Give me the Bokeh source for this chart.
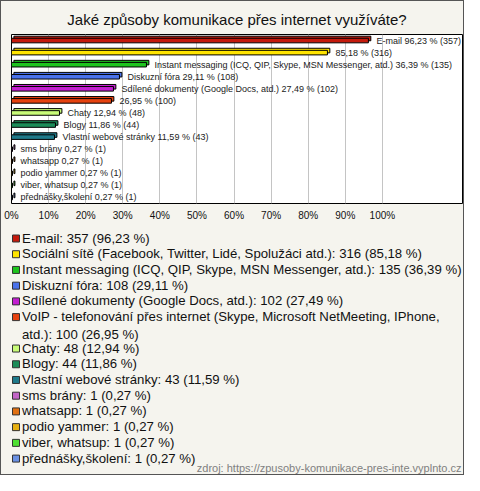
from bokeh.plotting import figure
from bokeh.models import Range1d, FixedTicker, PrintfTickFormatter, ColumnDataSource
from bokeh.layouts import column
from bokeh.embed import file_html
from bokeh.resources import INLINE
from bokeh.core.properties import value

title_text = "Jaké způsoby komunikace přes internet využíváte?"
categories = [
    "E-mail",
    "Sociální sítě (Facebook, Twitter, Lidé, Spolužáci atd.)",
    "Instant messaging (ICQ, QIP, Skype, MSN Messenger, atd.)",
    "Diskuzní fóra",
    "Sdílené dokumenty (Google Docs, atd.)",
    "VoIP - telefonování přes internet (Skype, Microsoft NetMeeting, IPhone,\natd.)",
    "Chaty",
    "Blogy",
    "Vlastní webové stránky",
    "sms brány",
    "whatsapp",
    "podio yammer",
    "viber, whatsup",
    "přednášky,školení",
]
bar_names = [
    "E-mail", "", "Instant messaging (ICQ, QIP, Skype, MSN Messenger, atd.)",
    "Diskuzní fóra", "Sdílené dokumenty (Google Docs, atd.)", "",
    "Chaty", "Blogy", "Vlastní webové stránky", "sms brány", "whatsapp",
    "podio yammer", "viber, whatsup", "přednášky,školení",
]
counts = [357, 316, 135, 108, 102, 100, 48, 44, 43, 1, 1, 1, 1, 1]
percents = [96.23, 85.18, 36.39, 29.11, 27.49, 26.95, 12.94, 11.86, 11.59,
            0.27, 0.27, 0.27, 0.27, 0.27]
colors = ["#c41a0c", "#ffe400", "#1ec41e", "#4a72ea", "#c21ed0", "#e6420f",
          "#c8fb78", "#1b8c58", "#1f7a8a", "#c264c6", "#e07012", "#e6b010",
          "#4ee032", "#6a90e2"]
x_ticks = [0, 10, 20, 30, 40, 50, 60, 70, 80, 90, 100]
source_text = "zdroj: https://zpusoby-komunikace-pres-inte.vyplnto.cz"

BG = "#f5f4ee"
FONT = "Liberation Sans"

def fmt(p):
    return ("%.2f" % p).replace(".", ",")

n = len(categories)
idx = list(range(n))
bar_text = [((nm + " ") if nm else "") + fmt(p) + " % (" + str(c) + ")"
            for nm, p, c in zip(bar_names, percents, counts)]

src = ColumnDataSource(dict(y=idx, right=percents, color=colors, label=bar_text,
                            yb=[i - 0.17 for i in idx],
                            lb=[0.65] * n,
                            rb=[p + 0.65 for p in percents]))

W = 462
TOP_H = 225
BL, BR = 10, 1
p = figure(width=W, height=TOP_H, x_range=Range1d(0, 121.6), y_range=Range1d(n - 0.5, -0.5),
           output_backend="svg", toolbar_location=None, y_axis_location=None,
           min_border_left=BL, min_border_right=BR, min_border_top=33, min_border_bottom=23)
p.title.text = title_text
p.title.align = "center"
p.title.text_font = FONT
p.title.text_font_size = "15px"
p.title.text_font_style = "normal"
p.title.text_color = "#111111"
p.title.standoff = 14
p.background_fill_color = "white"
p.border_fill_color = BG
p.outline_line_color = "black"
p.outline_line_width = 1

p.hbar(y="yb", left="lb", right="rb", height=0.38, fill_color="color",
       line_color="black", line_width=1, source=src)
p.hbar(y="y", left=0, right="right", height=0.38, fill_color="color",
       line_color="black", line_width=1, source=src)
p.text(x="right", y="y", text="label", x_offset=8, text_baseline="middle",
       text_font=value(FONT), text_font_size="9px", text_color="#222222", source=src)

p.ygrid.grid_line_color = None
p.xgrid.ticker = FixedTicker(ticks=x_ticks[1:])
p.xgrid.grid_line_color = "#c4c4c4"
p.xaxis.ticker = FixedTicker(ticks=x_ticks)
p.xaxis.formatter = PrintfTickFormatter(format="%d%%")
p.xaxis.axis_line_color = None
p.xaxis.major_tick_line_color = None
p.xaxis.minor_tick_line_color = None
p.xaxis.major_tick_out = 0
p.xaxis.major_label_standoff = 6
p.xaxis.major_label_text_font = FONT
p.xaxis.major_label_text_font_size = "10px"
p.xaxis.major_label_text_color = "#111111"

# legend panel (its frame is aligned with the chart frame by the column layout)
LH = 248
lg = figure(width=W, height=LH, x_range=Range1d(BL, W - BR), y_range=Range1d(LH, 0),
            output_backend="svg", toolbar_location=None,
            x_axis_location=None, y_axis_location=None,
            min_border_left=BL, min_border_right=BR, min_border_top=0, min_border_bottom=0)
lg.grid.grid_line_color = None
lg.outline_line_color = None
lg.background_fill_color = BG
lg.border_fill_color = BG

legend_text = [c + ": " + str(k) + " (" + fmt(pc) + " %)"
               for c, k, pc in zip(categories, counts, percents)]
line_h = 15.72
line_no = 0
ys_top, ys_mid = [], []
for t in legend_text:
    ys_top.append(4.0 + line_h * line_no)
    ys_mid.append(12 + line_h * line_no)
    line_no += t.count("\n") + 1

lsrc = ColumnDataSource(dict(yt=ys_top, ym=ys_mid, text=legend_text, color=colors))
lg.rect(x=14.5, y="ym", width=7, height=7, fill_color="color",
        line_color="#333333", line_width=1, source=lsrc)
lg.text(x=20.5, y="yt", text="text", text_baseline="top", text_line_height=1.19,
        text_font=value(FONT), text_font_size="13.2px", text_color="#111111", source=lsrc)
lg.text(x=460, y=[241], text=[source_text], text_align="right", text_baseline="middle",
        text_font=value(FONT), text_font_size="11px", text_color="#808080")

layout = column(p, lg, spacing=0, styles={"border": "1px solid #555555", "background-color": BG})

open("out.html", "w").write(file_html(layout, INLINE))
